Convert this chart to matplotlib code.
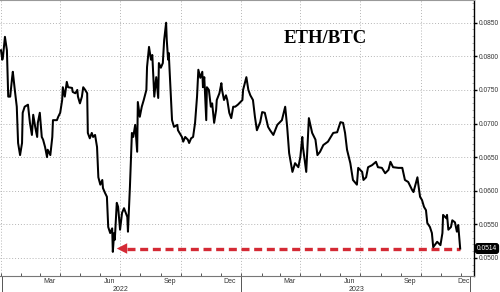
import pandas as pd
import matplotlib
matplotlib.use("Agg")
import matplotlib.pyplot as plt
import matplotlib.dates as mdates
import matplotlib.transforms as mtransforms
from matplotlib.ticker import MultipleLocator, FormatStrFormatter, NullFormatter

plt.rcParams['font.family'] = ['Liberation Sans', 'DejaVu Sans']

# ETH/BTC (days counted from 2022-01-01)
start = pd.Timestamp("2022-01-01")
day_offset = [0, 2, 3, 6, 9, 11, 14, 17, 18, 21, 24, 26, 29, 32, 33, 36, 41, 44, 47, 49,
              52, 55, 56, 59, 62, 64, 67, 70, 71, 75, 78, 79, 85, 87, 90, 93, 94, 97, 100, 102,
              108, 109, 113, 116, 117, 120, 123, 125, 128, 131, 132, 135, 138, 140, 143, 146, 148, 151, 154, 155,
              158, 161, 163, 166, 169, 170, 172, 173, 176, 178, 181, 184, 187, 192, 193, 196, 199, 201, 204, 207,
              208, 211, 214, 217, 221, 222, 225, 228, 230, 233, 236, 239, 240, 243, 246, 248, 251, 252, 254, 255,
              259, 260, 263, 268, 269, 275, 277, 280, 284, 286, 289, 292, 295, 298, 300, 303, 306, 307, 309, 312,
              313, 316, 319, 321, 324, 327, 328, 332, 335, 336, 339, 342, 344, 347, 350, 353, 356, 360, 367, 368,
              373, 376, 379, 383, 386, 389, 394, 397, 401, 406, 409, 414, 420, 427, 432, 435, 438, 443, 447, 452,
              455, 458, 459, 464, 467, 468, 473, 478, 481, 485, 490, 497, 505, 511, 516, 520, 523, 526, 531, 535,
              541, 543, 549, 551, 555, 558, 564, 570, 573, 579, 584, 589, 592, 596, 604, 610, 614, 619, 625, 627,
              633, 634, 637, 640, 643, 646, 648, 652, 655, 657, 663, 668, 671, 672, 677, 678, 680, 684, 686, 690,
              693, 695, 698]
eth_btc = [0.0809, 0.0795, 0.0799, 0.0829, 0.0809, 0.0740, 0.0740, 0.0769, 0.0777, 0.0750,
           0.0725, 0.0671, 0.0653, 0.0671, 0.0716, 0.0725, 0.0728, 0.0701, 0.0683, 0.0713,
           0.0695, 0.0680, 0.0701, 0.0716, 0.0680, 0.0676, 0.0665, 0.0650, 0.0661, 0.0653,
           0.0680, 0.0705, 0.0705, 0.0710, 0.0716, 0.0735, 0.0754, 0.0740, 0.0762, 0.0754,
           0.0753, 0.0747, 0.0745, 0.0750, 0.0740, 0.0730, 0.0740, 0.0754, 0.0750, 0.0745,
           0.0686, 0.0678, 0.0686, 0.0680, 0.0683, 0.0665, 0.0620, 0.0609, 0.0616, 0.0604,
           0.0597, 0.0591, 0.0546, 0.0537, 0.0544, 0.0509, 0.0537, 0.0527, 0.0582, 0.0576,
           0.0542, 0.0567, 0.0574, 0.0561, 0.0539, 0.0606, 0.0686, 0.0680, 0.0698, 0.0658,
           0.0732, 0.0710, 0.0725, 0.0735, 0.0750, 0.0784, 0.0814, 0.0795, 0.0802, 0.0740,
           0.0769, 0.0738, 0.0790, 0.0783, 0.0790, 0.0824, 0.0850, 0.0824, 0.0795, 0.0805,
           0.0725, 0.0705, 0.0695, 0.0698, 0.0690, 0.0680, 0.0673, 0.0680, 0.0676, 0.0671,
           0.0678, 0.0680, 0.0701, 0.0740, 0.0780, 0.0768, 0.0777, 0.0754, 0.0769, 0.0705,
           0.0754, 0.0750, 0.0725, 0.0730, 0.0701, 0.0720, 0.0735, 0.0745, 0.0760, 0.0750,
           0.0735, 0.0742, 0.0735, 0.0716, 0.0708, 0.0725, 0.0725, 0.0728, 0.0735, 0.0750,
           0.0769, 0.0750, 0.0742, 0.0735, 0.0710, 0.0690, 0.0702, 0.0717, 0.0716, 0.0695,
           0.0690, 0.0683, 0.0698, 0.0705, 0.0725, 0.0695, 0.0656, 0.0628, 0.0641, 0.0635,
           0.0650, 0.0680, 0.0665, 0.0628, 0.0690, 0.0708, 0.0686, 0.0676, 0.0653, 0.0658,
           0.0668, 0.0673, 0.0686, 0.0687, 0.0702, 0.0701, 0.0686, 0.0661, 0.0641, 0.0616,
           0.0609, 0.0634, 0.0628, 0.0616, 0.0620, 0.0635, 0.0638, 0.0643, 0.0635, 0.0634,
           0.0626, 0.0631, 0.0643, 0.0635, 0.0634, 0.0634, 0.0616, 0.0613, 0.0601, 0.0598,
           0.0620, 0.0612, 0.0591, 0.0586, 0.0576, 0.0571, 0.0552, 0.0546, 0.0537, 0.0516,
           0.0524, 0.0519, 0.0537, 0.0564, 0.0559, 0.0564, 0.0542, 0.0546, 0.0556, 0.0553,
           0.0539, 0.0549, 0.0514]

last_label = "0.0514"
arrow_tip = "2022-06-26"
month_names = ["Mar", "Jun", "Sep", "Dec", "Mar", "Jun", "Sep", "Dec"]
month_dates = ["2022-03-15", "2022-06-15", "2022-09-15", "2022-12-15",
               "2023-03-15", "2023-06-15", "2023-09-15", "2023-12-15"]
years = ["2022", "2023"]
year_centres = ["2022-07-02", "2023-06-26"]
year_breaks = ["2022-01-02", "2023-01-01", "2023-12-15"]

dates = start + pd.to_timedelta(day_offset, unit="D")
red = "#d42a35"

fig = plt.figure(figsize=(5, 2.92), dpi=100)
ax = fig.add_axes([0.0, 16 / 292, 474 / 500, 276 / 292])

ax.plot(dates, eth_btc, color="black", lw=1.45, zorder=3)

# dashed red arrow back to the 2022 low
last = eth_btc[-1]
tip = pd.Timestamp(arrow_tip)
head = pd.Timedelta(days=15)
ax.plot([tip + head, dates[-1]], [last, last], color=red, lw=2.4,
        dashes=(2.4, 1.4), solid_capstyle="butt", zorder=2)
ax.annotate("", xy=(tip, last), xytext=(tip + head, last),
            arrowprops=dict(arrowstyle="-|>,head_length=0.75,head_width=0.38",
                            color=red, lw=0, shrinkA=0, shrinkB=0, mutation_scale=10))

ax.set_xlim(start - pd.Timedelta(days=1.5), start + pd.Timedelta(days=719))
ax.set_ylim(0.04731, 0.08838)

ax.xaxis.set_major_locator(mdates.MonthLocator(bymonth=[1, 4, 7, 10]))
ax.xaxis.set_minor_locator(mdates.MonthLocator())
ax.xaxis.set_major_formatter(NullFormatter())
ax.tick_params(axis="x", which="both", direction="in", length=2.5, width=0.7, color="#555555")

ax.yaxis.tick_right()
ax.yaxis.set_major_locator(MultipleLocator(0.005))
ax.yaxis.set_minor_locator(MultipleLocator(0.001))
ax.yaxis.set_major_formatter(FormatStrFormatter("%.4f"))
ax.tick_params(axis="y", which="major", direction="out", length=2.5, width=1,
               pad=0.8, labelsize=4.8, labelcolor="#333333")
ax.tick_params(axis="y", which="minor", direction="in", length=1.5, width=0.5, color="#999999")

ax.grid(which="major", color="#b5b5b5", linestyle=(0, (1, 2)), lw=0.7)

ax.spines["left"].set_visible(False)
ax.spines["top"].set_color("#999999")
ax.spines["bottom"].set_color("#777777")
ax.spines["bottom"].set_linewidth(0.8)
ax.spines["right"].set_linewidth(1.0)

xtrans = mtransforms.blended_transform_factory(ax.transData, ax.transAxes)
for i, (name, d) in enumerate(zip(month_names, month_dates)):
    ha = "right" if i == len(month_names) - 1 else "center"
    ax.text(pd.Timestamp(d), -0.008, name, transform=xtrans, ha=ha, va="top",
            fontsize=5, color="#333333")
for name, d in zip(years, year_centres):
    ax.text(pd.Timestamp(d), -0.037, name, transform=xtrans, ha="center", va="top",
            fontsize=5, color="#333333")
for d in year_breaks:
    ax.plot([pd.Timestamp(d)] * 2, [0, -0.06], transform=xtrans, clip_on=False,
            color="#555555", lw=0.7)

ytrans = mtransforms.blended_transform_factory(ax.transAxes, ax.transData)
ax.text(1.006, last, last_label, transform=ytrans, ha="left", va="center",
        fontsize=4.8, color="white",
        bbox=dict(boxstyle="round,pad=0.2,rounding_size=0.35", fc="black", ec="black"))

ax.text(0.686, 0.86, "ETH/BTC", transform=ax.transAxes, ha="center", va="center",
        fontsize=13.5, fontweight="bold", family="Liberation Serif")

fig.savefig("out.png", dpi=100)
